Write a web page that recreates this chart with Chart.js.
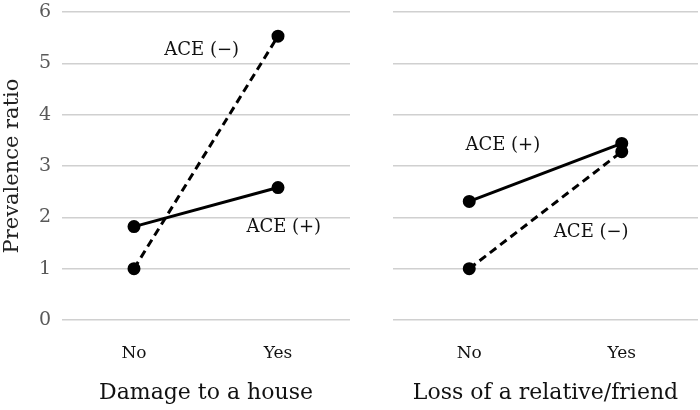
<!DOCTYPE html>
<html>
<head>
<meta charset="utf-8">
<script src="https://cdn.jsdelivr.net/npm/chart.js@4"></script>
<style>
  html, body { margin: 0; padding: 0; background: #fff; }
  .wrap { position: absolute; top: 0; width: 350px; height: 410px; }
</style>
</head>
<body>
<div class="wrap" style="left:0"><canvas id="left" width="350" height="410"></canvas></div>
<div class="wrap" style="left:350px"><canvas id="right" width="350" height="410"></canvas></div>
<script>
const categories = ['No', 'Yes'];
const yTicks = [0, 1, 2, 3, 4, 5, 6];

// Damage to a house
const houseAcePos = [1.82, 2.58];
const houseAceNeg = [1.0, 5.53];
// Loss of a relative/friend
const lossAcePos = [2.31, 3.44];
const lossAceNeg = [1.0, 3.28];

const FONT = "'DejaVu Serif', serif";

// draws the "ACE (+)" / "ACE (−)" texts at a spot given in axis units
const seriesLabels = {
  id: 'seriesLabels',
  afterDatasetsDraw(chart, args, opts) {
    const ctx = chart.ctx;
    const xs = chart.scales.x, ys = chart.scales.y;
    ctx.save();
    ctx.font = '18px ' + FONT;
    ctx.fillStyle = '#111';
    ctx.textAlign = 'center';
    ctx.textBaseline = 'middle';
    (opts.items || []).forEach(it => {
      ctx.fillText(it.text, xs.getPixelForValue(it.at), ys.getPixelForValue(it.value));
    });
    ctx.restore();
  }
};

function makeChart(id, pos, neg, title, showY, labels) {
  const line = (data, dash) => ({
    data: data,
    borderColor: '#000',
    backgroundColor: '#000',
    borderWidth: 3,
    borderDash: dash,
    pointRadius: 5,
    pointHoverRadius: 5,
    pointBackgroundColor: '#000',
    pointBorderColor: '#000',
    tension: 0
  });
  return new Chart(document.getElementById(id), {
    type: 'line',
    data: {
      labels: categories,
      datasets: [line(pos, []), line(neg, [8, 5])]
    },
    options: {
      responsive: false,
      animation: false,
      layout: { autoPadding: false, padding: { top: 12, bottom: 0, left: 0, right: showY ? 0 : 2 } },
      scales: {
        x: {
          offset: true,
          grid: { display: false, drawTicks: false },
          border: { display: false },
          ticks: { color: '#111', padding: 23, font: { family: FONT, size: 17 } },
          title: { display: true, text: title, color: '#111', padding: { top: 0, bottom: 4 }, font: { family: FONT, size: 22 } },
          afterFit(scale) { scale.height = 90; }
        },
        y: {
          min: 0,
          max: 6,
          afterBuildTicks(scale) { scale.ticks = yTicks.map(v => ({ value: v })); },
          grid: { color: '#d0d0d0', lineWidth: 1.5, drawTicks: false },
          border: { display: false },
          ticks: { display: showY, color: '#595959', padding: 11, font: { family: FONT, size: 19 } },
          title: { display: showY, text: 'Prevalence ratio', color: '#222', padding: { top: 0, bottom: 0 }, font: { family: FONT, size: 21 } },
          afterFit(scale) {
            scale.width = showY ? 62 : 43;
            scale.paddingTop = 0;
            scale.paddingBottom = 0;
          }
        }
      },
      plugins: {
        legend: { display: false },
        tooltip: { enabled: false },
        seriesLabels: { items: labels }
      }
    },
    plugins: [seriesLabels]
  });
}

makeChart('left', houseAcePos, houseAceNeg, 'Damage to a house', true, [
  { text: 'ACE (\u2212)', at: 0.47, value: 5.26 },
  { text: 'ACE (+)', at: 1.04, value: 1.81 }
]);
makeChart('right', lossAcePos, lossAceNeg, 'Loss of a relative/friend', false, [
  { text: 'ACE (+)', at: 0.22, value: 3.41 },
  { text: 'ACE (\u2212)', at: 0.80, value: 1.70 }
]);
</script>
</body>
</html>
